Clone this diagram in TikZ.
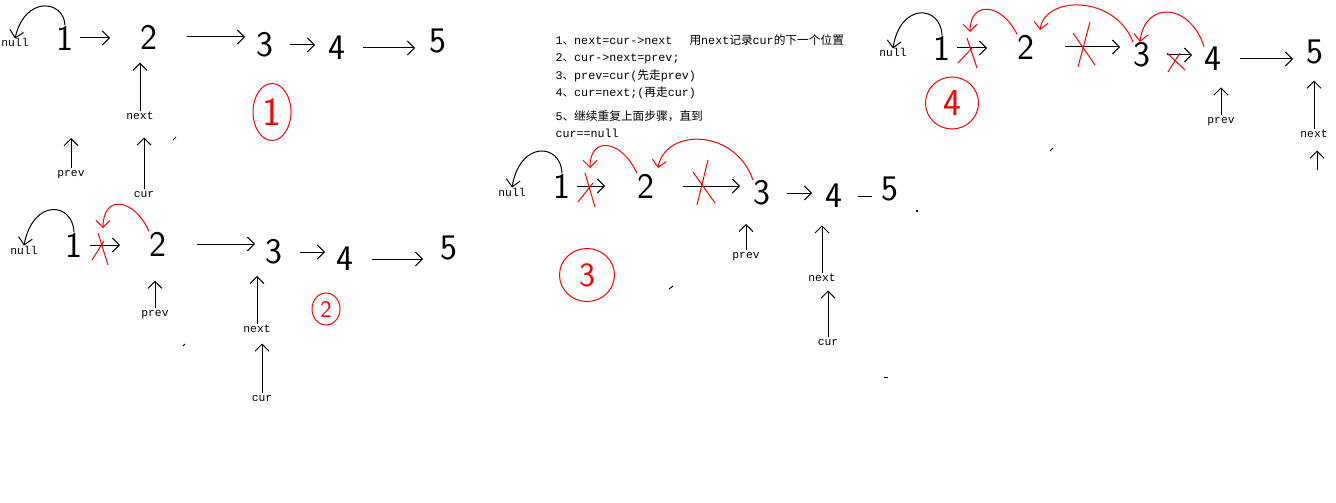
\documentclass[tikz,border=0pt]{standalone}
\usepackage{fontspec}
\newfontfamily\mono{Liberation Mono}
\newfontfamily\cjk{Noto Sans CJK SC}
\usetikzlibrary{arrows.meta,shapes.geometric}
\newcommand\Z[1]{{\cjk #1}}
\newcommand\hlnk[4]{\draw[arr,shorten <=#3pt,shorten >=#4pt] (#1.east) -- (#1.east -| #2.west);}
\newcommand\vlnk[3]{\draw[arr,shorten >=#3pt] (#1.north) -- (#1.north |- #2.south);}
\begin{document}
\begin{tikzpicture}[x=1pt,y=-1pt,line width=1pt,
  num/.style={font=\fontsize{36}{36}\selectfont\sffamily, inner sep=0pt},
  lab/.style={font=\fontsize{11.3}{13}\selectfont\mono, inner sep=1pt, text height=7pt, text depth=2pt, anchor=base},
  arr/.style={-{Straight Barb[length=7pt,width=14pt]}, line width=1pt},
  redarr/.style={arr, red},
  redx/.style={red, line width=1pt},
  circ/.style={draw=red, text=red, ellipse, inner sep=0pt, line width=1pt},
  txt/.style={anchor=base west, inner sep=0pt, font=\fontsize{11.7}{14}\selectfont\mono},
  stray/.style={line width=1pt}]
\path[fill=white] (0,0) rectangle (1336,503);
\useasboundingbox (0,0) rectangle (1336,503);

% ---------- diagram 1 ----------
\node[num] (a1) at (65,38) {1};
\node[num] (a2) at (149,37) {2};
\node[num] (a3) at (265,45) {3};
\node[num] (a4) at (337,48) {4};
\node[num] (a5) at (438,41) {5};
\node[lab] (null1) at (15,47) {null};
\node[lab] (next1) at (140,119) {next};
\node[lab] (cur1) at (144,197) {cur};
\node[lab] (prev1) at (71,176) {prev};
\hlnk{a1}{a2}{6}{30}
\hlnk{a2}{a3}{29}{11}
\hlnk{a3}{a4}{16}{13}
\hlnk{a4}{a5}{17}{14}
\draw[arr] (a1.north) .. controls (64,0) and (25,-5) .. (null1.north);
\vlnk{next1}{a2}{13}
\vlnk{cur1}{next1}{15}
\coordinate (pt1) at (71,138);
\draw[arr] (prev1.north) -- (pt1);
\node[circ, minimum width=38pt, minimum height=57pt, font=\fontsize{40}{40}\selectfont\sffamily] (r1) at (272,112) {1};
\draw[stray] (173,140) -- (176,137);

% ---------- diagram 2 ----------
\node[num] (b1) at (74,245) {1};
\node[num] (b2) at (158,244) {2};
\node[num] (b3) at (274,252) {3};
\node[num] (b4) at (345,259) {4};
\node[num] (b5) at (449,248) {5};
\node[lab] (null2) at (24,254) {null};
\node[lab] (prev2) at (155,316) {prev};
\node[lab] (next2) at (257,332) {next};
\node[lab] (cur2) at (262,401) {cur};
\hlnk{b1}{b2}{7}{29}
\hlnk{b2}{b3}{30}{10}
\hlnk{b3}{b4}{17}{11}
\hlnk{b4}{b5}{18}{17}
\draw[arr] (b1.north) .. controls (73,202) and (33,198) .. (null2.north);
\vlnk{prev2}{b2}{24}
\vlnk{next2}{b3}{11}
\vlnk{cur2}{next2}{8}
\draw[redx] (98,233) -- (108,265);
\draw[redx] (104,241) -- (92,260);
\coordinate (rb) at (103,228);
\draw[redarr] (b2.north west) .. controls (134,198) and (103,194) .. (rb);
\node[circ, minimum width=28pt, minimum height=32pt, font=\fontsize{24}{24}\selectfont\sffamily] (r2) at (326,309) {2};
\draw[stray] (183,346) -- (185,344);

% ---------- instructions ----------
\node[txt] (t1) at (555,45) {1\Z{、}next=cur->next\hspace{17pt}\Z{用}next\Z{记录}cur\Z{的下一个位置}};
\node[txt] (t2) at (555,62) {2\Z{、}cur->next=prev;};
\node[txt] (t3) at (555,79) {3\Z{、}prev=cur(\Z{先走}prev)};
\node[txt] (t4) at (555,96) {4\Z{、}cur=next;(\Z{再走}cur)};
\node[txt] (t5) at (555,120) {5\Z{、继续重复上面步骤，直到}};
\node[txt] (t6) at (555,137) {cur==null};

% ---------- diagram 3 ----------
\node[num] (c1) at (562,186) {1};
\node[num] (c2) at (646,186) {2};
\node[num] (c3) at (762,193) {3};
\node[num] (c4) at (834,196) {4};
\node[num] (c5) at (890,189) {5};
\node[lab] (null3) at (512,196) {null};
\node[lab] (prev3) at (746,258) {prev};
\node[lab] (next3) at (822,281) {next};
\node[lab] (cur3) at (828,345) {cur};
\hlnk{c1}{c2}{6}{32}
\hlnk{c2}{c3}{28}{13}
\hlnk{c3}{c4}{16}{13}
\draw[shorten <=15pt,shorten >=9pt] (c4.east) -- (c4.east -| c5.west);
\draw[arr] (c1.north) .. controls (561,143) and (520,140) .. (null3.north);
\vlnk{prev3}{c3}{18}
\vlnk{next3}{c4}{17}
\vlnk{cur3}{next3}{6}
\draw[redx] (585,173) -- (595,207);
\draw[redx] (593,183) -- (578,202);
\draw[redx] (693,172) -- (715,203);
\draw[redx] (708,160) -- (697,205);
\coordinate (rc1) at (590,168);
\coordinate (rc2) at (658,168);
\draw[redarr] (c2.north west) .. controls (622,140) and (590,135) .. (rc1);
\draw[redarr] (c3.north west) .. controls (735,128) and (665,128) .. (rc2);
\node[circ, minimum width=55pt, minimum height=53pt, font=\fontsize{34}{34}\selectfont\sffamily] (r3) at (587,275) {3};
\draw[stray] (669,289) -- (673,286);
\fill (916,210) rectangle (918,212);
\draw[stray] (884,377) -- (888,377);

% ---------- diagram 4 ----------
\node[num] (d1) at (942,48) {1};
\node[num] (d2) at (1026,47) {2};
\node[num] (d3) at (1142,55) {3};
\node[num] (d4) at (1213,59) {4};
\node[num] (d5) at (1315,52) {5};
\node[lab] (null4) at (893,57) {null};
\node[lab] (prev4) at (1221,123) {prev};
\node[lab] (next4) at (1314,137) {next};
\hlnk{d1}{d2}{6}{30}
\hlnk{d2}{d3}{30}{13}
\hlnk{d3}{d4}{16}{12}
\hlnk{d4}{d5}{18}{13}
\draw[arr] (d1.north) .. controls (941,5) and (900,2) .. (null4.north);
\vlnk{prev4}{d4}{16}
\vlnk{next4}{d5}{16}
\coordinate (cur4) at (1317,170);
\draw[arr,shorten >=10pt] (cur4) -- (cur4 |- next4.south);
\draw[redx] (967,38) -- (977,68);
\draw[redx] (972,48) -- (958,63);
\draw[redx] (1090,22) -- (1078,67);
\draw[redx] (1073,33) -- (1095,65);
\draw[redx] (1167,53) -- (1185,70);
\draw[redx] (1180,53) -- (1168,72);
\coordinate (rd1) at (970,32);
\coordinate (rd2) at (1040,30);
\coordinate (rd3) at (1140,42);
\draw[redarr] (d2.north west) .. controls (1002,3) and (970,0) .. (rd1);
\draw[redarr] (d3.north west) .. controls (1115,-5) and (1045,-5) .. (rd2);
\draw[redarr] (d4.north west) .. controls (1190,3) and (1145,0) .. (rd3);
\node[circ, minimum width=53pt, minimum height=52pt, font=\fontsize{38}{38}\selectfont\sffamily] (r4) at (952,103) {4};
\draw[stray] (1050,151) -- (1053,148);
\end{tikzpicture}
\end{document}
